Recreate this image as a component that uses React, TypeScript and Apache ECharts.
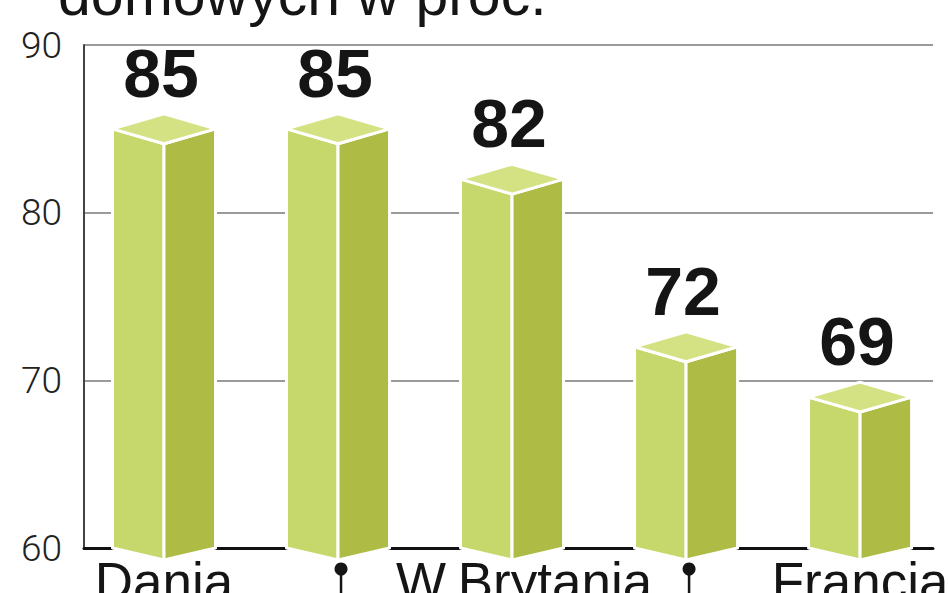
import React, { useEffect, useRef } from "react";
import * as echarts from "echarts";

const categories = ["Dania", "", "W.Brytania", "", "Francja"];
const values = [85, 85, 82, 72, 69];
const yMin = 60;
const yMax = 90;
const yInterval = 10;
const titleLine = "domowych w proc.";

export default function App() {
  const ref = useRef<HTMLDivElement>(null);
  useEffect(() => {
    if (!ref.current) return;
    const chart = echarts.init(ref.current, undefined, { renderer: "svg" });
    const data = values.map((v, i) => [i, v]);
    chart.setOption({
      animation: false,
      backgroundColor: "#ffffff",
      graphic: [
        {
          type: "text",
          left: 58,
          top: -35,
          style: {
            text: titleLine,
            font: "normal 59px 'Liberation Sans', Arial, sans-serif",
            fill: "#151515",
          },
        },
      ],
      grid: { left: 84, right: 15, top: 45, bottom: 45 },
      xAxis: {
        type: "value",
        min: -0.4598,
        max: 4.419,
        axisLine: { show: true, onZero: false, lineStyle: { color: "#111", width: 3 } },
        axisTick: { show: false },
        axisLabel: { show: false },
        splitLine: { show: false },
      },
      yAxis: {
        type: "value",
        min: yMin,
        max: yMax,
        interval: yInterval,
        axisLine: { show: true, onZero: false, lineStyle: { color: "#444", width: 2 } },
        axisTick: { show: false },
        axisLabel: {
          margin: 22,
          fontSize: 37,
          fontFamily: "Roboto, 'Liberation Sans', sans-serif",
          fontWeight: 300,
          color: "#222",
        },
        splitLine: { show: true, lineStyle: { color: "#9a9a9a", width: 2 } },
      },
      series: [
        {
          type: "custom",
          data,
          clip: false,
          renderItem: (params: any, api: any) => {
            const i = api.value(0);
            const v = api.value(1);
            const top = api.coord([i, v]);
            const base = api.coord([i, yMin]);
            const unit = api.size([1, 0])[0];
            const hw = unit * 0.296;
            const d = hw * 0.29;
            const cx = top[0];
            const yv = top[1];
            const yb = base[1];
            const stroke = { stroke: "#ffffff", lineWidth: 3, lineJoin: "round" };
            const children: any[] = [
              {
                type: "polygon",
                shape: { points: [[cx - hw, yv], [cx, yv + d], [cx, yb + d * 0.8], [cx - hw, yb]] },
                style: { fill: "#c6d86b", ...stroke },
              },
              {
                type: "polygon",
                shape: { points: [[cx, yv + d], [cx + hw, yv], [cx + hw, yb], [cx, yb + d * 0.8]] },
                style: { fill: "#aebc45", ...stroke },
              },
              {
                type: "polygon",
                shape: { points: [[cx - hw, yv], [cx, yv - d], [cx + hw, yv], [cx, yv + d]] },
                style: { fill: "#d5e283", ...stroke },
              },
              {
                type: "text",
                style: {
                  x: cx - 3,
                  y: yv - 56,
                  text: String(v),
                  align: "center",
                  verticalAlign: "middle",
                  font: "bold 68px 'Liberation Sans', Arial, sans-serif",
                  fill: "#151515",
                },
              },
            ];
            const name = categories[i];
            if (name) {
              children.push({
                type: "text",
                style: {
                  x: cx + (name.length > 8 ? 12 : 0),
                  y: yb + 33,
                  text: name,
                  align: "center",
                  verticalAlign: "middle",
                  font: "normal 53px 'Liberation Sans', Arial, sans-serif",
                  fill: "#151515",
                },
              });
            } else {
              children.push(
                {
                  type: "line",
                  shape: { x1: cx + 3, y1: yb + 20, x2: cx + 3, y2: yb + 60 },
                  style: { stroke: "#151515", lineWidth: 2.5 },
                },
                {
                  type: "circle",
                  shape: { cx: cx + 3, cy: yb + 21, r: 6.5 },
                  style: { fill: "#151515" },
                }
              );
            }
            return { type: "group", children };
          },
        },
      ],
    });
    return () => chart.dispose();
  }, []);
  return (
    <div
      ref={ref}
      style={{ position: "absolute", left: 0, top: 0, width: 948, height: 593, background: "#fff" }}
    />
  );
}
